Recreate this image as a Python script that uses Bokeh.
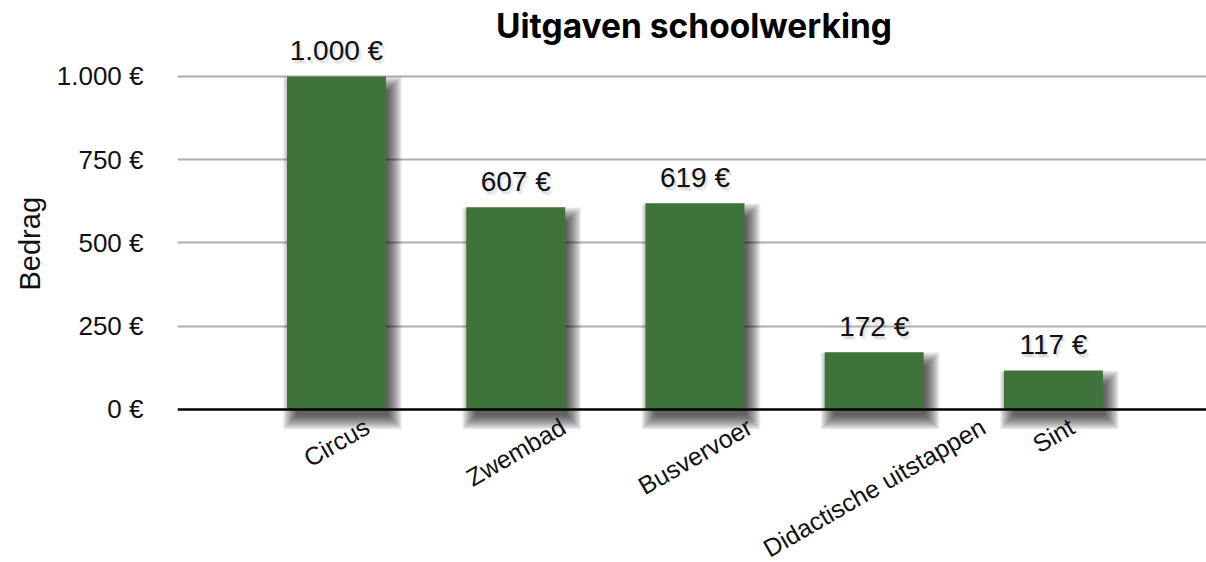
import math
from bokeh.plotting import figure
from bokeh.models import Range1d, FixedTicker, Span, Title
from bokeh.core.properties import value
from bokeh.embed import file_html
from bokeh.resources import INLINE

# ---- data ----
categories = ["Circus", "Zwembad", "Busvervoer", "Didactische uitstappen", "Sint"]
amounts = [1000, 607, 619, 172, 117]
y_ticks = [0, 250, 500, 750, 1000]
y_tick_labels = ["0 €", "250 €", "500 €", "750 €", "1.000 €"]
title_text = "Uitgaven schoolwerking"
y_title = "Bedrag"

# ---- layout ----
W, H = 1206, 562
LEFT = 177
X0, X1 = -0.887, 4.854
Y0, Y1 = -459.5, 1228.2
px_x = (X1 - X0) / (W - LEFT)
px_y = (Y1 - Y0) / H
BW = 0.552
BAR = "#3e743a"
INK = "#111111"
FONT = "Liberation Sans"

p = figure(width=W, height=H, output_backend="svg", toolbar_location=None,
           x_range=Range1d(X0, X1), y_range=Range1d(Y0, Y1),
           x_axis_location=None, y_axis_location="left",
           min_border_left=LEFT, min_border_right=0, min_border_top=0, min_border_bottom=0)
p.outline_line_color = None
p.background_fill_color = "white"
p.border_fill_color = "white"

ax = p.yaxis[0]
ax.ticker = FixedTicker(ticks=y_ticks)
ax.major_label_overrides = {t: l for t, l in zip(y_ticks, y_tick_labels)}
ax.axis_line_color = None
ax.major_tick_line_color = None
ax.minor_tick_line_color = None
ax.major_tick_in = 0
ax.major_tick_out = 0
ax.major_label_standoff = 34
ax.major_label_text_font = FONT
ax.major_label_text_font_size = "26px"
ax.major_label_text_color = INK

p.ygrid.ticker = FixedTicker(ticks=y_ticks[1:])
p.ygrid.grid_line_color = "#adadad"
p.ygrid.grid_line_width = 2
p.xgrid.visible = False

xs = list(range(len(categories)))

# soft drop shadows
sdx, sdy = 6 * px_x, 10 * px_y
for e in range(-4, 11):
    p.quad(left=[x - BW / 2 + sdx - e * px_x for x in xs],
           right=[x + BW / 2 + sdx + e * px_x for x in xs],
           top=[a - sdy + e * px_y for a in amounts],
           bottom=[-sdy - e * px_y for a in amounts],
           fill_color="black", fill_alpha=0.06, line_color=None)

p.vbar(x=xs, top=amounts, width=BW, bottom=0, fill_color=BAR, line_color=None)

p.add_layout(Span(location=0, dimension="width", line_color="black", line_width=2.5))

# value labels with soft glow
VOFF = -26
val_text = [f"{a:,}".replace(",", ".") + " €" for a in amounts]
for ox, oy in [(1, 2), (2, 3), (3, 4), (0, 1)]:
    p.text(x=xs, y=amounts, text=val_text, x_offset=ox, y_offset=VOFF + oy,
           text_align="center", text_baseline="alphabetic",
           text_font=value(FONT), text_font_size="28px", text_color="black", text_alpha=0.06)
p.text(x=xs, y=amounts, text=val_text, y_offset=VOFF,
       text_align="center", text_baseline="alphabetic",
       text_font=value(FONT), text_font_size="28px", text_color=INK)

# rotated category labels, centred under each bar
cw = {"C": .722, "i": .222, "r": .333, "c": .5, "u": .556, "s": .5, "Z": .611, "w": .722,
      "e": .556, "m": .833, "b": .556, "a": .556, "d": .556, "B": .667, "v": .5, "o": .556,
      "D": .722, "t": .278, "h": .556, " ": .278, "p": .556, "n": .556, "S": .667}
fs = 25
ang = math.pi / 6
offs = [15 + sum(cw.get(ch, .55) for ch in c) * fs * math.sin(ang) / 2 for c in categories]
p.text(x=xs, y=[0] * len(xs), text=categories, y_offset=offs, angle=ang,
       text_align="center", text_baseline="middle",
       text_font=value(FONT), text_font_size=f"{fs}px", text_color=INK)

# title
p.text(x=[X0 + (693.5 - LEFT) * px_x], y=[Y1 - 25 * px_y], text=[title_text],
       text_align="center", text_baseline="alphabetic",
       text_font=value("Inter"), text_font_size="33.5px", text_font_style="bold", text_color="black")

# y axis title
p.add_layout(Title(text=y_title, align="left", offset=272, standoff=16, vertical_align="bottom",
                   text_font=FONT, text_font_size="29px", text_font_style="normal",
                   text_color=INK), "left")

open("out.html", "w").write(file_html(p, INLINE))
